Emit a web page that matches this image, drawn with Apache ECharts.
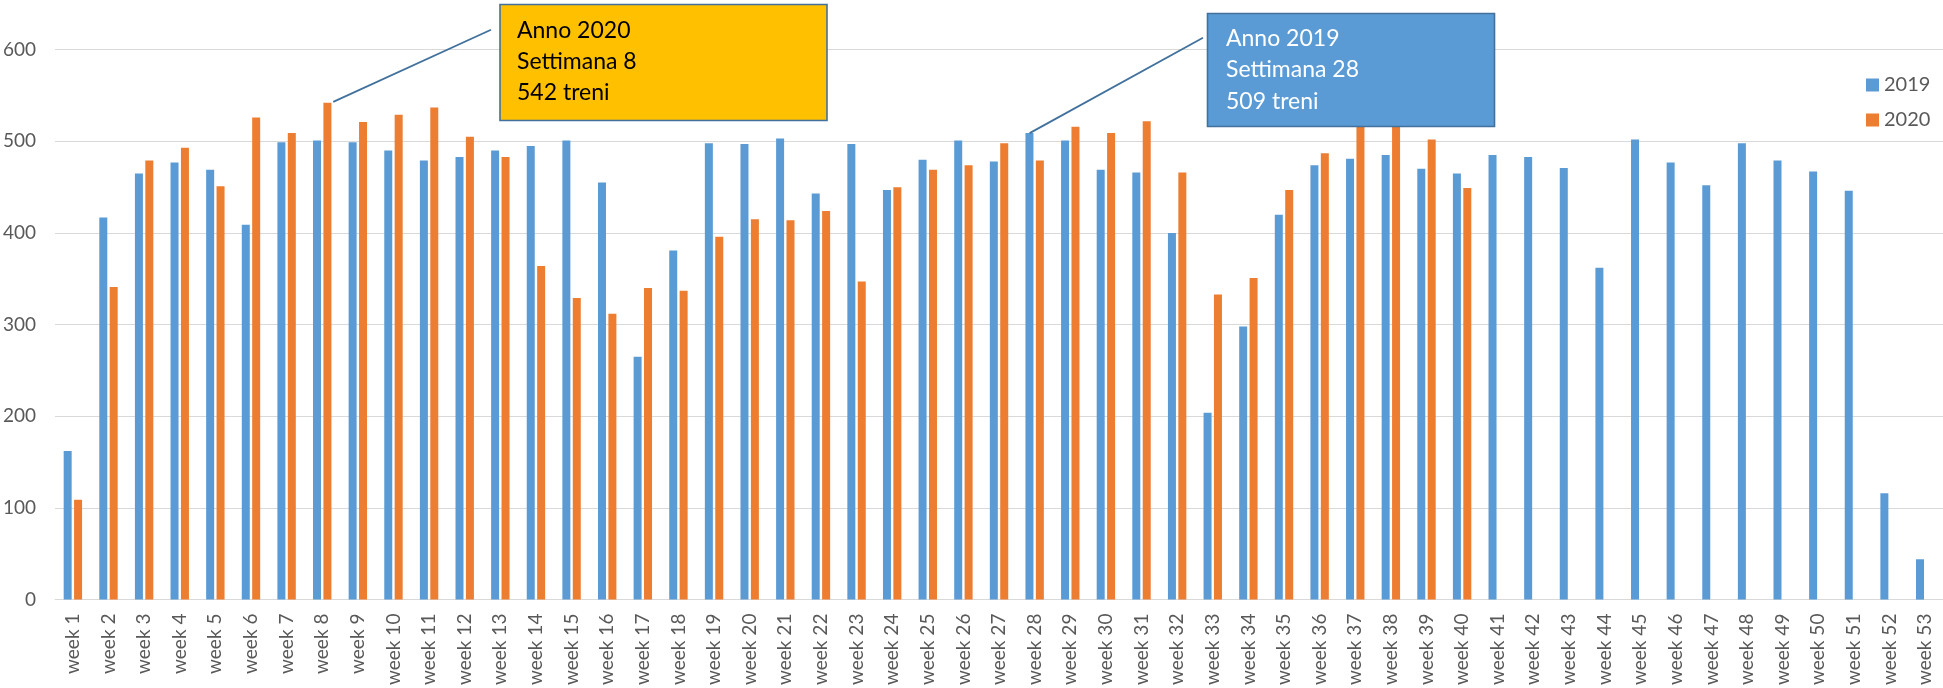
<!DOCTYPE html>
<html>
<head>
<meta charset="utf-8">
<script src="https://cdn.jsdelivr.net/npm/echarts@6/dist/echarts.min.js"></script>
<style>
html,body{margin:0;padding:0;background:#fff;}
#chart{width:1943px;height:688px;}
</style>
</head>
<body>
<div id="chart"></div>
<script>
var categories = [];
for (var i = 1; i <= 53; i++) categories.push('week ' + i);

var values2019 = [162, 417, 465, 477, 469, 409, 499, 501, 499, 490,
  479, 483, 490, 495, 501, 455, 265, 381, 498, 497,
  503, 443, 497, 447, 480, 501, 478, 509, 501, 469,
  466, 400, 204, 298, 420, 474, 481, 485, 470, 465,
  485, 483, 471, 362, 502, 477, 452, 498, 479, 467,
  446, 116, 44];

var values2020 = [109, 341, 479, 493, 451, 526, 509, 542, 521, 529,
  537, 505, 483, 364, 329, 312, 340, 337, 396, 415,
  414, 424, 347, 450, 469, 474, 498, 479, 516, 509,
  522, 466, 333, 351, 447, 487, 525, 530, 502, 449,
  null, null, null, null, null, null, null, null, null, null,
  null, null, null];

var yTicks = { min: 0, max: 600, interval: 100 };
var seriesNames = ['2019', '2020'];
var note2020 = { week: 'week 8', value: 542, text: 'Anno 2020\nSettimana 8\n542 treni' };
var note2019 = { week: 'week 28', value: 509, text: 'Anno 2019\nSettimana 28\n509 treni' };

var FONT = 'Lato, "Open Sans", sans-serif';
var chart = echarts.init(document.getElementById('chart'), null, { renderer: 'canvas' });

var option = {
  animation: false,
  backgroundColor: '#ffffff',
  grid: { left: 55, right: -8, top: 49.7, bottom: 87.5 },
  legend: {
    data: seriesNames,
    orient: 'vertical',
    left: 1861,
    top: 70,
    icon: 'rect',
    itemWidth: 13,
    itemHeight: 13,
    itemGap: 15,
    textStyle: { fontFamily: FONT, fontSize: 20, color: '#595959', lineHeight: 20 }
  },
  xAxis: {
    type: 'category',
    data: categories,
    axisTick: { show: false },
    axisLine: { lineStyle: { color: '#d9d9d9', width: 1 } },
    axisLabel: { rotate: 90, interval: 0, margin: 14, fontFamily: FONT, fontSize: 19, color: '#595959' }
  },
  yAxis: {
    type: 'value',
    min: yTicks.min,
    max: yTicks.max,
    interval: yTicks.interval,
    axisLine: { show: false },
    axisTick: { show: false },
    splitLine: { lineStyle: { color: '#d9d9d9', width: 1 } },
    axisLabel: { margin: 19, fontFamily: FONT, fontSize: 19, color: '#595959' }
  },
  series: [
    { name: seriesNames[0], type: 'bar', data: values2019, barWidth: 8, barGap: '30%',
      itemStyle: { color: '#5B9BD5' } },
    { name: seriesNames[1], type: 'bar', data: values2020, barWidth: 8, barGap: '30%',
      itemStyle: { color: '#ED7D31' } }
  ]
};
chart.setOption(option);

var p8 = chart.convertToPixel({ gridIndex: 0 }, [note2020.week, note2020.value]);
var p28 = chart.convertToPixel({ gridIndex: 0 }, [note2019.week, note2019.value]);

chart.setOption({
  graphic: [
    { type: 'line', z: 100, shape: { x1: p8[0] + 11, y1: p8[1] - 1, x2: 491, y2: 29.8 },
      style: { stroke: '#41719C', lineWidth: 1.8 } },
    { type: 'rect', z: 100, shape: { x: 500, y: 4.5, width: 327, height: 116 },
      style: { fill: '#FFC000', stroke: '#41719C', lineWidth: 1.6 } },
    { type: 'text', z: 101, x: 517, y: 15.2,
      style: { text: note2020.text, font: '23px ' + FONT, fill: '#000000', lineHeight: 31, verticalAlign: 'top' } },
    { type: 'line', z: 100, shape: { x1: p28[0] - 5, y1: p28[1], x2: 1203, y2: 37.7 },
      style: { stroke: '#41719C', lineWidth: 1.8 } },
    { type: 'rect', z: 100, shape: { x: 1207.5, y: 13.5, width: 287, height: 113 },
      style: { fill: '#5B9BD5', stroke: '#41719C', lineWidth: 1.6 } },
    { type: 'text', z: 101, x: 1226, y: 22.5,
      style: { text: note2019.text, font: '23px ' + FONT, fill: '#ffffff', lineHeight: 31.5, verticalAlign: 'top' } }
  ]
});
</script>
</body>
</html>
